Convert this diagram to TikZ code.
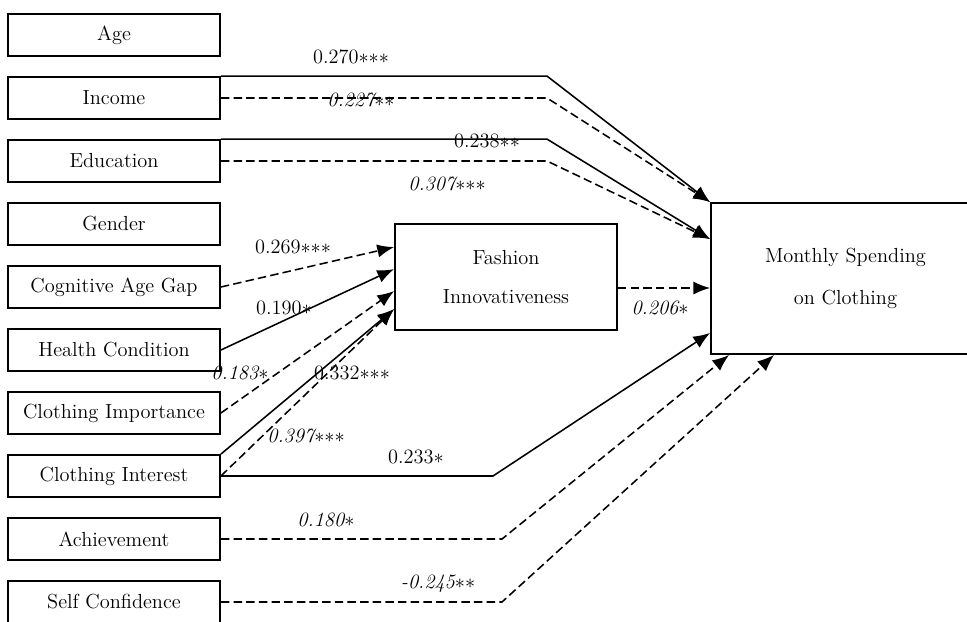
\documentclass[tikz,border=0pt]{standalone}
\usepackage{tikz}
\usetikzlibrary{arrows.meta, positioning, calc}
\newcommand{\sstar}{\ensuremath{{\ast}}}

\begin{document}
\begin{tikzpicture}[auto, node distance=1.575cm, >={Latex[length=4.2mm, width=3.3mm]}]
% We define the styles for the boxes, the paths and the coefficients
 \tikzset{
factor/.style = {draw, rectangle, line width=1.3pt, minimum width=5.3cm, minimum height=1.05cm, inner sep=0pt, font=\fontsize{14.5}{17}\selectfont},
outcome/.style = {draw, rectangle, line width=1.3pt, inner sep=0pt, align=center},
solidline/.style = {draw, ->, line width=1.1pt},
dashline/.style = {draw, ->, line width=1.1pt, dash pattern=on 6pt off 3pt},
coef/.style = {inner sep=0pt, font=\fontsize{14.5}{17}\selectfont},
coefit/.style = {coef, font=\fontsize{14.5}{17}\selectfont\itshape},
}
 \useasboundingbox (0,0) rectangle (24.175,-15.55);
 \clip (0,0) rectangle (24.175,-15.55);

 % Predictor boxes
 \node [factor] (age) at (2.85,-0.875) {Age};
 \node [factor, below of=age] (income) {Income};
 \node [factor, below of=income] (education) {Education};
 \node [factor, below of=education] (gender) {Gender};
 \node [factor, below of=gender] (cogage) {Cognitive Age Gap};
 \node [factor, below of=cogage] (health) {Health Condition};
 \node [factor, below of=health] (importance) {Clothing Importance};
 \node [factor, below of=importance] (interest) {Clothing Interest};
 \node [factor, below of=interest] (achievement) {Achievement};
 \node [factor, below of=achievement] (selfconf) {Self Confidence};

 % Mediator and outcome boxes
 \node [outcome, minimum width=5.55cm, minimum height=2.65cm, font=\fontsize{14.5}{28}\selectfont] (fi) at (12.65,-6.925) {Fashion\\Innovativeness};
 \node [outcome, minimum width=6.725cm, minimum height=3.775cm, font=\fontsize{14.5}{30}\selectfont] (ms) at (21.1375,-6.9625) {Monthly Spending\\on Clothing};

 % Bend points of the long paths
 \coordinate (bendA) at (13.675,0);
 \coordinate (bendB) at (12.325,0);
 \coordinate (bendC) at (12.55,0);
 \coordinate (fiout) at ([yshift=-0.275cm]fi.east);

 % Paths into the outcome
 \draw [solidline] (income.north east) -- (bendA |- income.north east) -- (ms.north west);
 \draw [dashline] (income.east) -- (bendA |- income.east) -- (ms.north west);
 \draw [solidline] (education.north east) -- (bendA |- education.north east) -- ([yshift=-0.925cm]ms.north west);
 \draw [dashline] (education.east) -- (bendA |- education.east) -- ([yshift=-0.925cm]ms.north west);
 \draw [dashline] (fiout) -- (fiout -| ms.west);
 \draw [solidline] (interest.east) -- (bendB |- interest.east) -- ([yshift=0.55cm]ms.south west);
 \draw [dashline] (achievement.east) -- (bendC |- achievement.east) -- ([xshift=0.475cm]ms.south west);
 \draw [dashline] (selfconf.east) -- (bendC |- selfconf.east) -- ([xshift=1.6cm]ms.south west);

 % Paths into the mediator
 \draw [dashline] (cogage.east) -- ([yshift=-0.6cm]fi.north west);
 \draw [solidline] (health.east) -- ([yshift=-1.15cm]fi.north west);
 \draw [dashline] (importance.east) -- ([yshift=-1.7cm]fi.north west);
 \draw [solidline] (interest.north east) -- ([yshift=-2.15cm]fi.north west);
 \draw [dashline] (interest.east) -- ([yshift=-2.15cm]fi.north west);

 % Coefficients
 \node [coef] (cincome) at (8.775,-1.425) {0.270\sstar\sstar\sstar};
 \node [coefit] (cincomeb) at (9.025,-2.5) {0.227\sstar\sstar};
 \node [coef] (ceduc) at (12.175,-3.525) {0.238\sstar\sstar};
 \node [coefit] (ceducb) at (11.175,-4.6) {0.307\sstar\sstar\sstar};
 \node [coef] (ccog) at (7.325,-6.175) {0.269\sstar\sstar\sstar};
 \node [coef] (chealth) at (7.1,-7.7) {0.190\sstar};
 \node [coefit] (cimport) at (6.0,-9.325) {0.183\sstar};
 \node [coef] (cinter) at (8.8,-9.325) {0.332\sstar\sstar\sstar};
 \node [coefit] (cinterb) at (7.65,-10.9) {0.397\sstar\sstar\sstar};
 \node [coef] (cinterc) at (10.4,-11.425) {0.233\sstar};
 \node [coefit] (cachiev) at (8.15,-13.0) {0.180\sstar};
 \node [coefit] (cself) at (10.95,-14.6) {-0.245\sstar\sstar};
 \node [coefit] (cfi) at (16.5,-7.7) {0.206\sstar};

\end{tikzpicture}
\end{document}
